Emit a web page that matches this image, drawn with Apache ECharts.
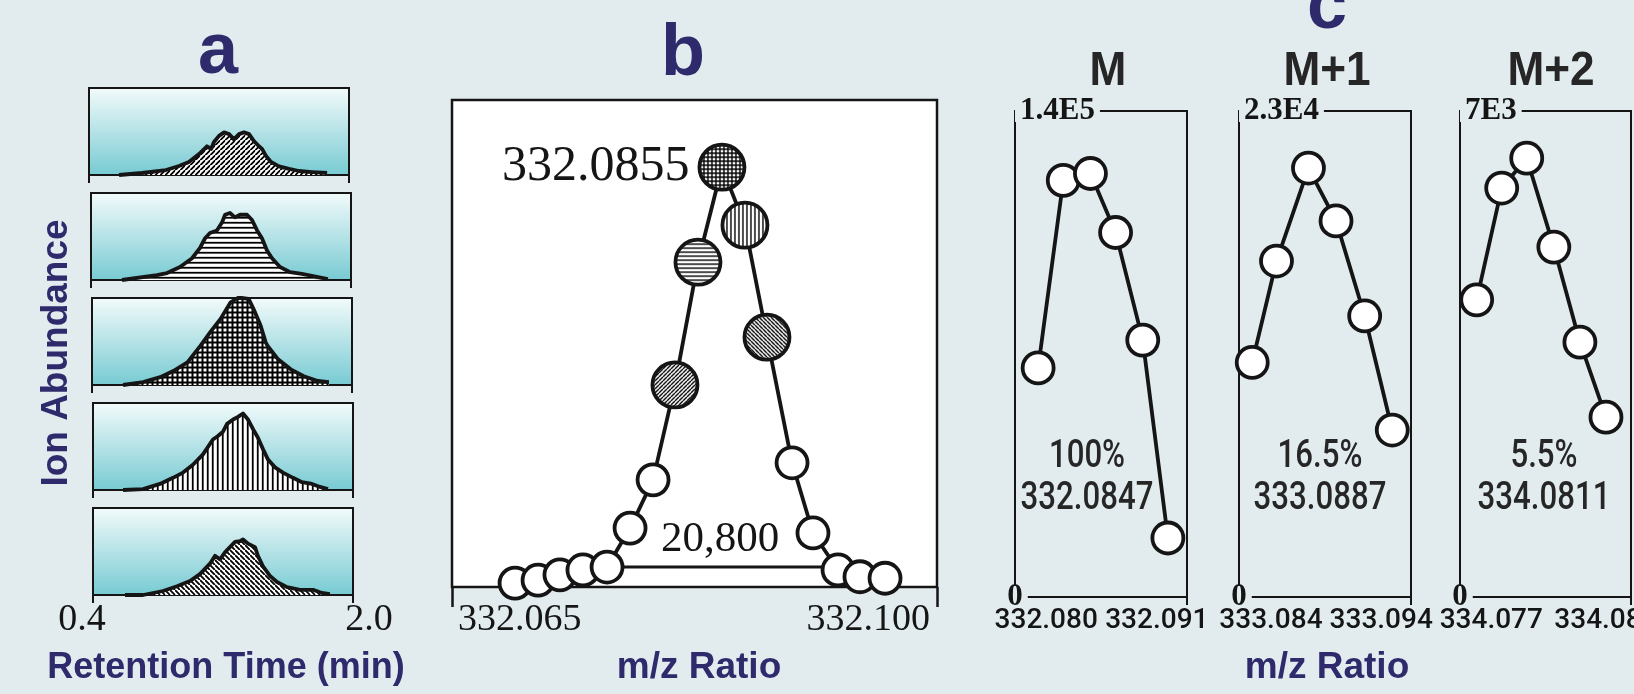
<!DOCTYPE html>
<html><head><meta charset="utf-8">
<script src="https://cdn.jsdelivr.net/npm/echarts@6/dist/echarts.min.js"></script>
<style>html,body{margin:0;padding:0;background:#e2ecef;} #c{width:1634px;height:694px;}</style>
</head><body><div id="c"></div>
<script>
// ---------------- DATA ----------------
// Panel a: extracted ion chromatograms (retention time, min / relative abundance)
const rtTicks = [0.4, 2.0];
const rt1 = [0.585,0.726,0.874,0.954,1.015,1.077,1.126,1.151,1.169,1.2,1.231,1.262,1.292,1.323,1.354,1.385,1.415,1.446,1.465,1.489,1.52,1.569,1.631,1.692,1.772,1.865];
const ab1 = [0,2.3,5.7,10.3,15,24,33,30,38,45,49,47,41,47,49,47,39,33,30,22,15,10,7,4.6,3.4,2.3];
const rt2 = [0.591,0.806,0.868,0.948,1.022,1.071,1.102,1.132,1.175,1.206,1.225,1.255,1.286,1.317,1.36,1.391,1.422,1.452,1.483,1.514,1.563,1.625,1.698,1.766,1.858];
const ab2 = [0,5.7,8,15,25,37,48,54,57,66,75,77,72,75,75,69,57,48,34,25,15,9,7,4.6,1];
const rt3 = [0.591,0.715,0.82,0.9,0.987,1.067,1.129,1.191,1.253,1.296,1.32,1.364,1.395,1.438,1.469,1.481,1.543,1.623,1.703,1.79,1.858];
const ab3 = [0,3.4,9,16,26,45,61,76,95,100,100,99,87,68,49,45,30,18,10,4.6,3.4];
const rt4 = [0.585,0.708,0.812,0.892,0.954,1.015,1.077,1.138,1.169,1.2,1.225,1.262,1.292,1.323,1.354,1.385,1.415,1.446,1.477,1.52,1.569,1.631,1.686,1.748,1.797,1.846];
const ab4 = [0,1,7,14,20,29,41,58,62,67,76,81,84,88,81,70,60,47,35,26,20,14,9,7,3.5,1];
const rt5 = [0.597,0.708,0.831,0.917,0.997,1.058,1.12,1.151,1.182,1.212,1.243,1.274,1.305,1.323,1.354,1.397,1.415,1.446,1.489,1.532,1.594,1.674,1.754,1.809,1.858];
const ab5 = [0,0,4.6,10,16,24,36,45,41,49,55,61,62,64,59,55,45,33,22,15,9,6,6,2.3,1];

// Panel b: profile mass spectrum
const mzBTicks = [332.065, 332.100];
const mzB = [332.06955,332.07121,332.07279,332.07445,332.07619,332.07785,332.07951,332.08109,332.08275,332.08448,332.08614,332.08773,332.08954,332.09105,332.09286,332.09444,332.09625];
const intB = [0.8,1.4,2.5,3.5,4.1,12.1,22,41.5,66.7,86.2,74.3,51.3,25.5,11.1,3.5,2.1,1.8];
const peakLabelB = '332.0855';
const resMz = [332.07626, 332.09250];
const resLevel = [1.8, 4.1];
const resolvingPower = '20,800';

// Panel c: isotope peaks
const cNames = ['M','M+1','M+2'];
const cMzM  = [332.0792,332.0817,332.0844,332.0869,332.0896,332.0921];
const cIntM = [66000,120000,122000,105000,74000,17000];
const cMzM1  = [333.0823,333.0845,333.0874,333.0899,333.0925,333.0950];
const cIntM1 = [11100,15900,20300,17800,13300,7900];
const cMzM2  = [334.0756,334.0780,334.0804,334.0830,334.0855,334.0880];
const cIntM2 = [4280,5890,6320,5040,3670,2590];
const cYMax = [140000, 23000, 7000];
const cYMaxLabel = ['1.4E5','2.3E4','7E3'];
const cXRange = [[332.0769,332.0940],[333.0811,333.0967],[334.0740,334.0904]];
const cXTicks = [[332.080,332.091],[333.084,333.094],[334.077,334.088]];
const cPct = ['100%','16.5%','5.5%'];
const cCentroid = ['332.0847','333.0887','334.0811'];

// ---------------- STYLE ----------------
const NAVY = '#2e2a6b', INK = '#151515', DARK = '#262626', BG = '#e2ecef';
const SERIF = "'Liberation Serif','Times New Roman',serif";
const SANS = "'Liberation Sans',Arial,sans-serif";
const MED = "Roboto,'Liberation Sans',Arial,sans-serif";

function makePattern(kind, s, lw, scale) {
  const cv = document.createElement('canvas'); cv.width = s; cv.height = s;
  const g = cv.getContext('2d');
  g.fillStyle = '#fff'; g.fillRect(0,0,s,s);
  g.strokeStyle = '#000'; g.lineWidth = lw;
  g.beginPath();
  if (kind==='h'||kind==='grid'){ g.moveTo(0,s/2); g.lineTo(s,s/2); }
  if (kind==='v'||kind==='grid'){ g.moveTo(s/2,0); g.lineTo(s/2,s); }
  if (kind==='fwd'){ for (let k=-1;k<=1;k++){ g.moveTo(k*s, s); g.lineTo(k*s+s, 0);} }
  if (kind==='back'){ for (let k=-1;k<=1;k++){ g.moveTo(k*s, 0); g.lineTo(k*s+s, s);} }
  g.stroke();
  const p = {type:'pattern', image: cv, repeat: 'repeat'};
  if (scale) { p.scaleX = scale; p.scaleY = scale; }
  return p;
}

const grids = [], xAxes = [], yAxes = [], series = [];
function addGrid(g){ grids.push(Object.assign({outerBoundsMode:'none', containLabel:false}, g)); return grids.length-1; }

// ---- Panel a ----
const aTimes = [rt1, rt2, rt3, rt4, rt5];
const aAbund = [ab1, ab2, ab3, ab4, ab5];
const aKinds = ['fwd','h','grid','v','back'];
const aLefts = [89, 91, 92, 93, 93];
const aTops = [88, 193, 298, 403, 508];
const aGrad = new echarts.graphic.LinearGradient(0,0,0,1,[{offset:0,color:'#f4fbfb'},{offset:1,color:'#76cad2'}]);
for (let i=0;i<5;i++){
  const gi = addGrid({left:aLefts[i], top:aTops[i], width:260, height:87, show:true,
    backgroundColor:aGrad, borderColor:INK, borderWidth:2});
  xAxes.push({gridIndex:gi, type:'value', min:rtTicks[0], max:rtTicks[1],
    axisLine:{show:false}, splitLine:{show:false},
    axisTick:{show:true, customValues:rtTicks, length:8, lineStyle:{color:INK,width:2}},
    axisLabel:{show:i===4, customValues:rtTicks, margin:6, showMinLabel:true, showMaxLabel:true,
      formatter:(v)=> (Math.abs(v-rtTicks[0])<1e-9 ? '{l|' : '{r|') + v.toFixed(1) + '}',
      rich:{l:{padding:[0,22,0,0],fontFamily:SERIF,fontSize:38,color:INK},
            r:{padding:[0,0,0,32],fontFamily:SERIF,fontSize:38,color:INK}}}});
  yAxes.push({gridIndex:gi, type:'value', min:0, max:100, show:false});
  series.push({type:'line', xAxisIndex:gi, yAxisIndex:gi, symbol:'none', silent:true,
    data:aTimes[i].map((t,j)=>[t,aAbund[i][j]]),
    lineStyle:{color:INK,width:3.8,join:'round'},
    areaStyle:{color:makePattern(aKinds[i], i===2?5:5.5, i===2?2:1.8), opacity:1}});
}

// ---- Panel b ----
const bHatch = {7:'fwd', 8:'h', 9:'grid', 10:'v', 11:'back'};
const bBig = 45;
const bPeakIdx = intB.indexOf(Math.max(...intB));
const gb = addGrid({left:452, top:100, width:485, height:487, show:true,
  backgroundColor:'#ffffff', borderColor:INK, borderWidth:2.5});
xAxes.push({gridIndex:gb, type:'value', min:mzBTicks[0], max:mzBTicks[1],
  axisLine:{show:false}, splitLine:{show:false},
  axisTick:{show:true, customValues:mzBTicks, length:20, lineStyle:{color:INK,width:2.5}},
  axisLabel:{customValues:mzBTicks, margin:14, alignMinLabel:'left', alignMaxLabel:'right',
    showMinLabel:true, showMaxLabel:true,
    padding:[0,7,0,6], formatter:(v)=>v.toFixed(3), fontFamily:SERIF, fontSize:38, color:INK}});
yAxes.push({gridIndex:gb, type:'value', min:0, max:100, show:false});
series.push({type:'line', xAxisIndex:gb, yAxisIndex:gb, symbol:'none', silent:true, z:2,
  data:[[resMz[0],resLevel[0]],[resMz[0],resLevel[1]],[resMz[1],resLevel[1]],[resMz[1],resLevel[0]]],
  lineStyle:{color:INK,width:3}});
series.push({type:'line', xAxisIndex:gb, yAxisIndex:gb, z:3, clip:false, silent:true,
  symbol:'circle', symbolSize:31,
  itemStyle:{color:'#ffffff', borderColor:INK, borderWidth:3.8},
  lineStyle:{color:INK,width:3.8},
  data:mzB.map((m,j)=>{
    const item = {value:[m,intB[j]]};
    if (bHatch[j]) { item.symbolSize = bBig; item.itemStyle = {color:makePattern(bHatch[j], 4, 1.4, 2/bBig), borderColor:INK, borderWidth:3.8}; }
    if (j===bPeakIdx) item.label = {show:true, position:'left', distance:8, formatter:peakLabelB,
      fontFamily:SERIF, fontSize:50, color:INK};
    return item;
  })});

// ---- Panel c ----
const cMz = [cMzM, cMzM1, cMzM2];
const cInt = [cIntM, cIntM1, cIntM2];
const cLefts = [1015, 1239, 1460];
const cWidths = [172, 172, 171];
for (let i=0;i<3;i++){
  const gi = addGrid({left:cLefts[i], top:111, width:cWidths[i], height:486, show:true,
    backgroundColor:'transparent', borderColor:INK, borderWidth:2});
  xAxes.push({gridIndex:gi, type:'value', min:cXRange[i][0], max:cXRange[i][1],
    axisLine:{show:false}, splitLine:{show:false},
    axisTick:{show:true, customValues:[cXRange[i][1]], length:8, lineStyle:{color:INK,width:2}},
    axisLabel:{customValues:cXTicks[i], margin:10, formatter:(v)=>v.toFixed(3),
      showMinLabel:true, showMaxLabel:true, hideOverlap:false,
      fontFamily:MED, fontWeight:500, fontSize:28, color:INK}});
  yAxes.push({gridIndex:gi, type:'value', min:0, max:cYMax[i],
    axisLine:{show:false}, axisTick:{show:false}, splitLine:{show:false},
    axisLabel:{inside:true, margin:0, customValues:[0,cYMax[i]],
      showMinLabel:true, showMaxLabel:true, hideOverlap:false,
      formatter:(v)=> v===0 ? '0' : cYMaxLabel[i],
      alignMinLabel:'center', alignMaxLabel:'left',
      fontFamily:SERIF, fontWeight:'bold', fontSize:31, color:INK,
      backgroundColor:BG, padding:[2,5,0,5], lineHeight:20}});
  series.push({type:'line', xAxisIndex:gi, yAxisIndex:gi, clip:false, silent:true,
    symbol:'circle', symbolSize:31,
    itemStyle:{color:'#ffffff', borderColor:INK, borderWidth:3.8},
    lineStyle:{color:INK,width:3.8},
    data:cMz[i].map((m,j)=>[m,cInt[i][j]])});
}

// ---- texts ----
function txt(x, y, text, font, fill, extra){
  return Object.assign({type:'text', x:x, y:y, silent:true, z:100,
    style:{text:text, font:font, fill:fill, align:'center', verticalAlign:'middle'}}, extra||{});
}
const graphics = [
  txt(218, 53, 'a', "bold 72px "+SANS, NAVY),
  txt(683, 55, 'b', "bold 72px "+SANS, NAVY),
  txt(1327, 8, 'c', "bold 72px "+SANS, NAVY),
  txt(57, 353, 'Ion Abundance', "bold 37px "+SANS, NAVY, {rotation:Math.PI/2}),
  txt(226, 668, 'Retention Time (min)', "bold 36px "+SANS, NAVY),
  txt(699, 668, 'm/z Ratio', "bold 37px "+SANS, NAVY),
  txt(1327, 668, 'm/z Ratio', "bold 37px "+SANS, NAVY),
  txt(720, 540, resolvingPower, "43px "+SERIF, INK),
];
const cNameX = [1108, 1327, 1551];
const cAnnX = [1087, 1320, 1544];
for (let i=0;i<3;i++){
  graphics.push(txt(cNameX[i], 72, cNames[i], "bold 48px "+SANS, DARK, {scaleX:0.92}));
  graphics.push(txt(cAnnX[i], 457, cPct[i], "500 39px "+MED, DARK, {scaleX:0.8}));
  graphics.push(txt(cAnnX[i], 499, cCentroid[i], "500 39px "+MED, DARK, {scaleX:0.8}));
}

const chart = echarts.init(document.getElementById('c'), null, {renderer:'canvas'});
chart.setOption({
  backgroundColor: BG,
  animation: false,
  grid: grids, xAxis: xAxes, yAxis: yAxes, series: series,
  graphic: {elements: graphics}
});
</script></body></html>
